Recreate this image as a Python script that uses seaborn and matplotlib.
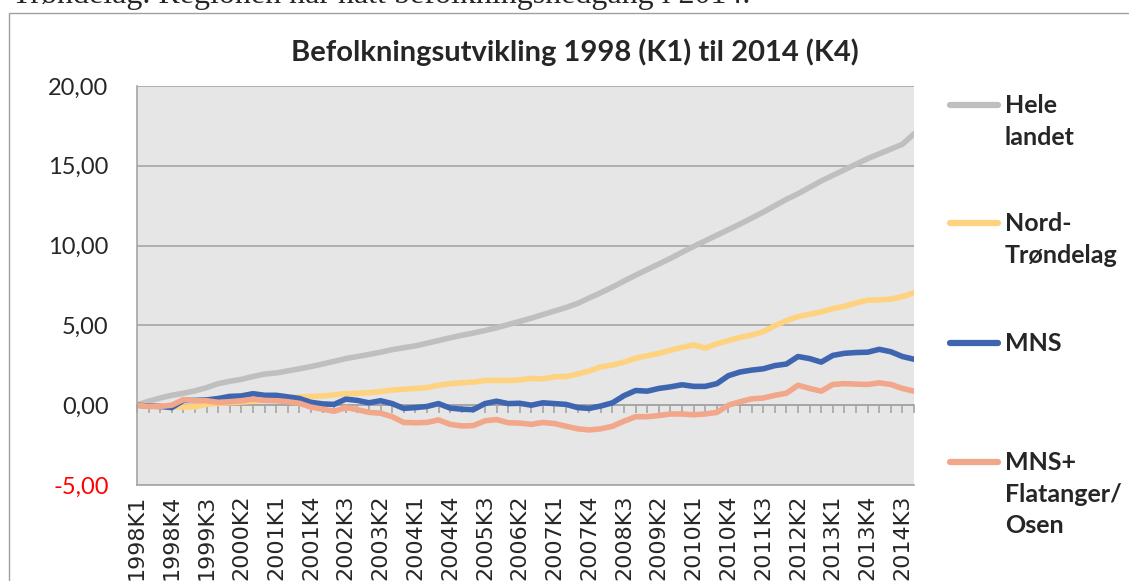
import numpy as np
import pandas as pd
import matplotlib
matplotlib.use('Agg')
import matplotlib.pyplot as plt
import seaborn as sns
from matplotlib.lines import Line2D
from matplotlib.patches import Rectangle

# Kvartaler 1998K1 - 2014K4
kvartal = [f"{aar}K{k}" for aar in range(1998, 2015) for k in range(1, 5)]

hele_landet = [0.00, 0.25, 0.45, 0.62, 0.75, 0.90, 1.10, 1.35, 1.50, 1.62,
               1.80, 1.95, 2.02, 2.15, 2.28, 2.42, 2.58, 2.75, 2.92, 3.05,
               3.18, 3.32, 3.48, 3.60, 3.72, 3.88, 4.05, 4.22, 4.38, 4.52,
               4.68, 4.85, 5.05, 5.25, 5.45, 5.68, 5.90, 6.12, 6.38, 6.72,
               7.05, 7.40, 7.78, 8.15, 8.50, 8.85, 9.20, 9.58, 9.95, 10.30,
               10.65, 11.00, 11.35, 11.72, 12.10, 12.50, 12.90, 13.25, 13.65, 14.05,
               14.40, 14.75, 15.10, 15.45, 15.75, 16.05, 16.35, 17.00]

nord_trondelag = [0.00, -0.02, -0.05, -0.10, -0.12, -0.10, 0.05, 0.12, 0.15, 0.20,
                  0.25, 0.30, 0.35, 0.45, 0.52, 0.55, 0.58, 0.65, 0.72, 0.75,
                  0.78, 0.85, 0.95, 1.00, 1.05, 1.10, 1.25, 1.35, 1.40, 1.45,
                  1.55, 1.55, 1.55, 1.58, 1.68, 1.65, 1.78, 1.80, 1.95, 2.15,
                  2.40, 2.52, 2.70, 2.95, 3.10, 3.25, 3.45, 3.62, 3.78, 3.58,
                  3.85, 4.05, 4.25, 4.40, 4.60, 4.98, 5.30, 5.55, 5.70, 5.85,
                  6.05, 6.20, 6.40, 6.58, 6.60, 6.65, 6.80, 7.05]

mns = [0.00, -0.05, -0.08, -0.15, 0.30, 0.30, 0.33, 0.42, 0.55, 0.58,
       0.72, 0.62, 0.62, 0.52, 0.42, 0.18, 0.08, 0.05, 0.38, 0.30,
       0.15, 0.28, 0.10, -0.20, -0.15, -0.08, 0.10, -0.18, -0.25, -0.28,
       0.10, 0.25, 0.10, 0.12, 0.00, 0.15, 0.10, 0.05, -0.15, -0.20,
       -0.05, 0.15, 0.60, 0.92, 0.88, 1.05, 1.15, 1.28, 1.18, 1.18,
       1.35, 1.85, 2.08, 2.20, 2.28, 2.48, 2.58, 3.05, 2.92, 2.70,
       3.12, 3.25, 3.30, 3.32, 3.50, 3.35, 3.05, 2.88]

mns_flatanger_osen = [0.00, -0.08, -0.08, 0.00, 0.35, 0.28, 0.28, 0.18, 0.22, 0.28,
                      0.38, 0.30, 0.28, 0.22, 0.12, -0.12, -0.25, -0.38, -0.15, -0.28,
                      -0.45, -0.50, -0.72, -1.08, -1.10, -1.08, -0.92, -1.20, -1.30, -1.28,
                      -0.98, -0.90, -1.10, -1.12, -1.20, -1.08, -1.15, -1.32, -1.48, -1.55,
                      -1.48, -1.32, -1.00, -0.72, -0.72, -0.65, -0.55, -0.55, -0.60, -0.55,
                      -0.45, 0.00, 0.22, 0.40, 0.45, 0.62, 0.75, 1.25, 1.05, 0.88,
                      1.30, 1.35, 1.32, 1.30, 1.40, 1.30, 1.05, 0.88]

serier = ['Hele\nlandet', 'Nord-\nTrøndelag', 'MNS', 'MNS+\nFlatanger/\nOsen']
farger = ['#BFBFBF', '#FFD27F', '#3E65B0', '#F2A68A']
yticks = [-5, 0, 5, 10, 15, 20]

df = pd.DataFrame({'kvartal': kvartal, 'pos': range(len(kvartal)),
                   serier[0]: hele_landet, serier[1]: nord_trondelag,
                   serier[2]: mns, serier[3]: mns_flatanger_osen})
long = df.melt(id_vars=['kvartal', 'pos'], var_name='serie', value_name='verdi')

sns.set_style('white')
plt.rcParams['font.family'] = ['Lato', 'DejaVu Sans']

W, H = 1129, 581
fig = plt.figure(figsize=(W / 100, H / 100), dpi=100)

# chart border and the cut text line above
fig.add_artist(Rectangle((8.5 / W, 1 - 700 / H), 1200 / W, (700 - 12.5) / H,
                         transform=fig.transFigure, fill=False,
                         edgecolor='#A0A0A0', lw=1.0, clip_on=False))
fig.text(12 / W, 1 - 3 / H, 'Trøndelag. Regionen har hatt befolkningsnedgang i 2014.',
         family='Liberation Serif', fontsize=23, va='baseline', ha='left')

ax = fig.add_axes([137 / W, 1 - 485 / H, (914 - 137) / W, (485 - 86) / H])
ax.set_facecolor('#E6E6E6')

sns.lineplot(data=long, x='pos', y='verdi', hue='serie', hue_order=serier,
             palette=farger, linewidth=4, legend=False, sort=False, ax=ax)
for ln in ax.lines:
    ln.set_solid_capstyle('round')
    ln.set_solid_joinstyle('round')

ax.set_xlim(0, len(kvartal) - 1)
ax.set_ylim(-5, 20)
ax.set_xlabel('')
ax.set_ylabel('')
ax.set_axisbelow(True)
ax.yaxis.grid(True, color='#A6A6A6', lw=1.2)
ax.xaxis.grid(False)

ax.set_yticks(yticks)
ax.set_yticklabels([f"{v:.2f}".replace('.', ',') for v in yticks], fontsize=17)
ax.get_yticklabels()[0].set_color('red')
ax.tick_params(axis='y', length=6.5, width=1.2, color='#A6A6A6', pad=14)

ax.set_xticks(range(0, len(kvartal), 3))
ax.set_xticklabels(kvartal[::3], rotation=90, fontsize=16, family='DejaVu Sans')
ax.tick_params(axis='x', length=0, pad=7)

for s in ['top', 'right']:
    ax.spines[s].set_visible(False)
for s in ['left', 'bottom']:
    ax.spines[s].set_color('#A6A6A6')
    ax.spines[s].set_linewidth(1.2)

# category axis crossing at 0
sec = ax.secondary_xaxis(5 / 25)
sec.set_xticks(range(len(kvartal)))
sec.tick_params(axis='x', direction='out', length=5.5, width=1.2, color='#A6A6A6',
                labelbottom=False)
sec.spines['bottom'].set_color('#A6A6A6')
sec.spines['bottom'].set_linewidth(1.2)

fig.text(575 / W, 1 - 52 / H, 'Befolkningsutvikling 1998 (K1) til 2014 (K4)',
         fontsize=21, fontweight='bold', ha='center', va='center')

# legend
leg_y = [105, 223, 343, 462]
for navn, farge, y in zip(serier, farger, leg_y):
    fig.add_artist(Line2D([950 / W, 998 / W], [1 - y / H, 1 - y / H],
                          transform=fig.transFigure, color=farge, lw=4.5,
                          solid_capstyle='round'))
    fig.text(1005 / W, 1 - (y - 11) / H, navn, fontsize=18, fontweight='bold',
             ha='left', va='top', linespacing=1.46)

fig.savefig('out.png', dpi=100)
